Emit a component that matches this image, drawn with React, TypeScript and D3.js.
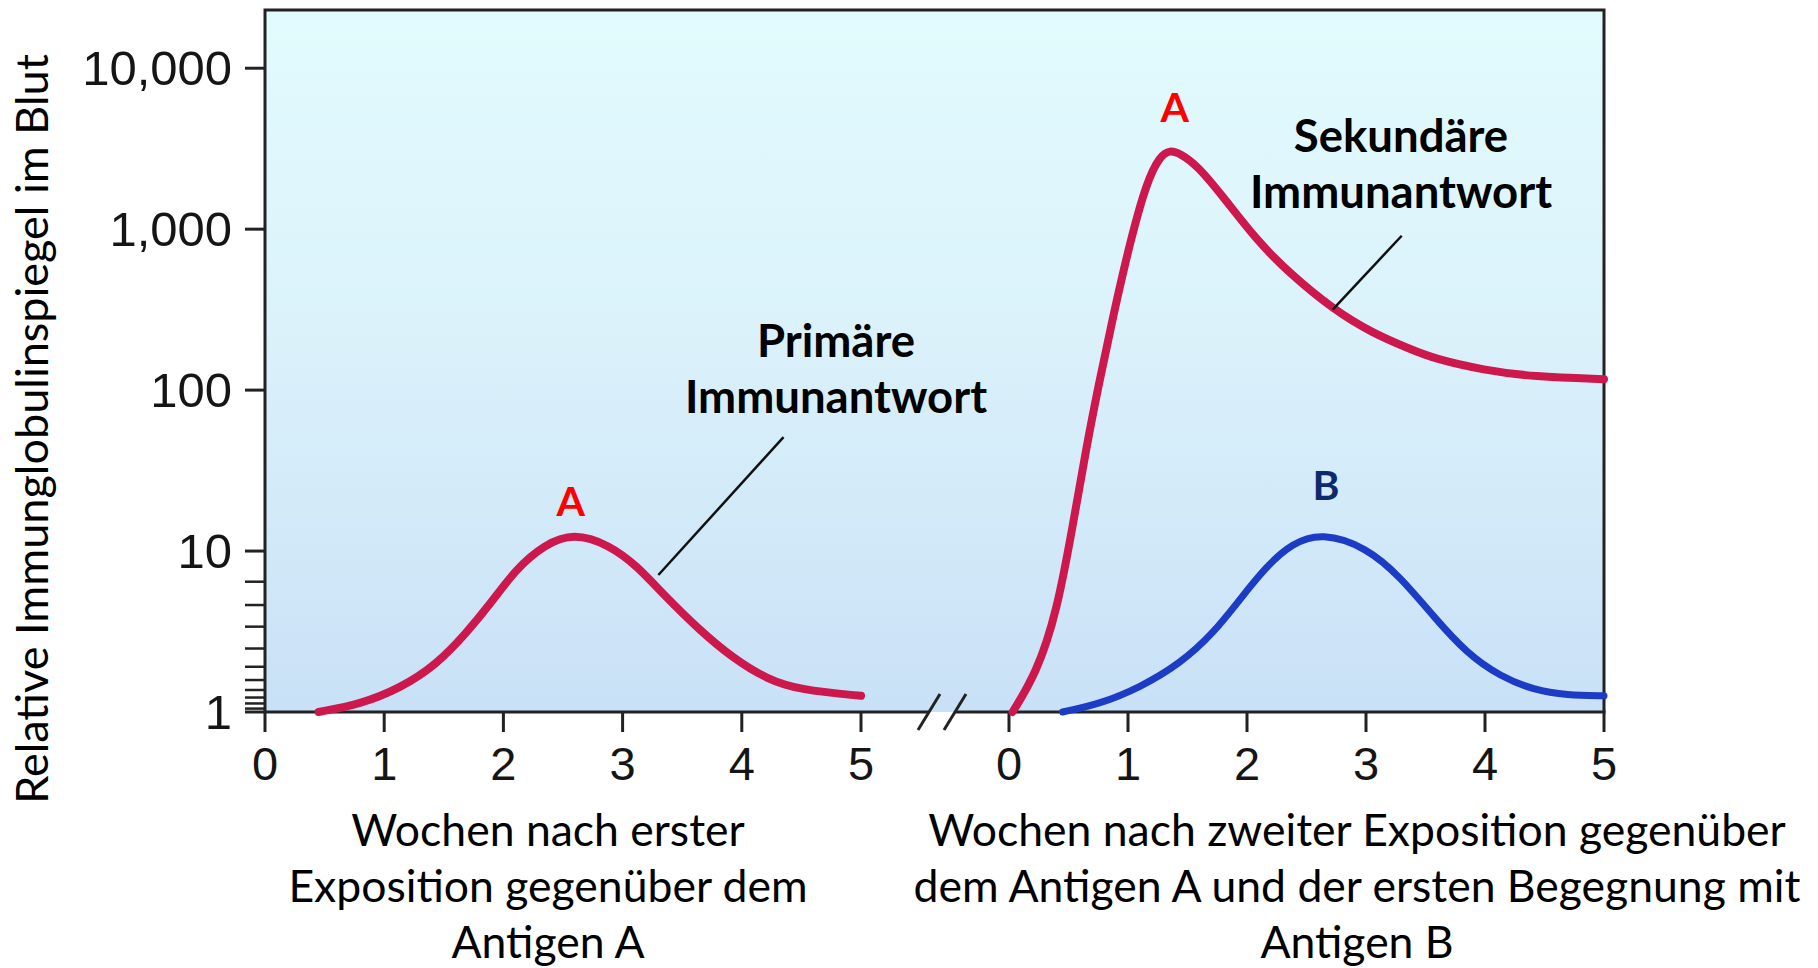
import React from "react";
import * as d3 from "d3";

// ---------- data ----------
const xTickValues = [0, 1, 2, 3, 4, 5];
const yTickValues = [1, 10, 100, 1000, 10000];
const yTickLabels = ["1", "10", "100", "1,000", "10,000"];
const yMinorTicks = [6.45, 4.62, 3.39, 2.48, 1.91, 1.58, 1.37, 1.23, 1.13, 1.05];
const yDomain = [1, 23000];

// primary response, antigen A (weeks after first exposure)
const primaryWeeks = [0.45, 0.8, 1.13, 1.44, 1.69, 1.89, 2.11, 2.34, 2.59, 2.89, 3.12, 3.34, 3.65, 3.93, 4.21, 4.49, 5.0];
const primaryLevel = [1.0, 1.12, 1.4, 1.97, 3.1, 4.7, 7.8, 10.9, 13.0, 10.9, 8.1, 5.4, 3.2, 2.15, 1.6, 1.37, 1.26];

// secondary response, antigen A (weeks after second exposure)
const secondaryWeeks = [0.03, 0.23, 0.4, 0.54, 0.65, 0.75, 0.88, 1.02, 1.16, 1.27, 1.35, 1.44, 1.58, 1.8, 2.08, 2.36, 2.73, 3.06, 3.37, 3.57, 3.99, 4.41, 5.0];
const secondaryLevel = [1.0, 1.74, 4.1, 14.9, 44, 105, 300, 850, 2000, 2850, 3100, 2950, 2500, 1590, 855, 530, 315, 225, 180, 157, 133, 121, 117];

// primary response, antigen B
const antigenBWeeks = [0.45, 0.76, 1.1, 1.44, 1.72, 1.94, 2.16, 2.38, 2.63, 3.0, 3.29, 3.57, 3.85, 4.13, 4.41, 4.69, 5.0];
const antigenBLevel = [1.0, 1.12, 1.42, 2.0, 3.1, 5.0, 8.0, 11.2, 13.0, 10.6, 6.9, 3.9, 2.3, 1.66, 1.37, 1.27, 1.26];

// annotation anchors (data coordinates)
const primaryLeader = [{ t: 3.3, v: 7.1 }, { t: 4.35, v: 51 }];
const secondaryLeader = [{ t: 2.72, v: 316 }, { t: 3.3, v: 910 }];

const yAxisTitle = "Relative Immunglobulinspiegel im Blut";
const leftXTitle = ["Wochen nach erster", "Exposition gegenüber dem", "Antigen A"];
const rightXTitle = ["Wochen nach zweiter Exposition gegenüber", "dem Antigen A und der ersten Begegnung mit", "Antigen B"];
const primaryLabel = ["Primäre", "Immunantwort"];
const secondaryLabel = ["Sekundäre", "Immunantwort"];

// ---------- layout ----------
const W = 1818;
const H = 968;
const left = 265;
const right = 1604;
const top = 10;
const bottom = 712;

const RED = "#cc184d";
const BLUE = "#1c3cc6";
const AXIS = "#222";
const NUM_FONT = "'Liberation Sans', Arial, sans-serif";
const TXT_FONT = "Lato, 'Open Sans', sans-serif";

export default function App() {
  const y = d3.scaleLog().domain(yDomain).range([bottom, top]);
  const xA = d3.scaleLinear().domain([0, 5]).range([left, 861]);
  const xB = d3.scaleLinear().domain([0, 5]).range([1009, right]);

  const mk = (xs: any, ts: number[], vs: number[]) =>
    d3
      .line<number>()
      .x((_, i) => xs(ts[i]))
      .y((_, i) => Math.min(y(vs[i]), bottom))
      .curve(d3.curveBasis)(ts) as string;

  const pPath = mk(xA, primaryWeeks, primaryLevel);
  const sPath = mk(xB, secondaryWeeks, secondaryLevel);
  const bPath = mk(xB, antigenBWeeks, antigenBLevel);

  const baseY = y(1);
  const breakC = 942;

  const pPeakI = primaryLevel.indexOf(d3.max(primaryLevel) as number);
  const sPeakI = secondaryLevel.indexOf(d3.max(secondaryLevel) as number);
  const bPeakI = antigenBLevel.indexOf(d3.max(antigenBLevel) as number);

  return (
    <svg width={W} height={H} style={{ position: "absolute", left: 0, top: 0, background: "#fff" }}>
      <defs>
        <linearGradient id="bg" x1="0" y1="0" x2="0" y2="1">
          <stop offset="0" stopColor="#e2fbfd" />
          <stop offset="0.45" stopColor="#dbf2fb" />
          <stop offset="1" stopColor="#c9e1f6" />
        </linearGradient>
      </defs>
      <rect x={left} y={top} width={right - left} height={baseY - top} fill="url(#bg)" />

      {/* frame */}
      <path d={`M${left},${baseY}V${top}H${right}V${baseY}`} fill="none" stroke={AXIS} strokeWidth={3} />
      {/* x axis with break */}
      <line x1={left - 1.5} x2={breakC - 13} y1={baseY} y2={baseY} stroke={AXIS} strokeWidth={3} />
      <line x1={breakC + 13} x2={right + 1.5} y1={baseY} y2={baseY} stroke={AXIS} strokeWidth={3} />
      {[breakC - 13, breakC + 13].map((c, i) => (
        <line key={i} x1={c - 11} y1={baseY + 18} x2={c + 11} y2={baseY - 18} stroke={AXIS} strokeWidth={3} />
      ))}

      {/* x ticks */}
      {[xA, xB].map((xs, k) =>
        xTickValues.map((t) => (
          <g key={`${k}-${t}`}>
            <line x1={xs(t)} x2={xs(t)} y1={baseY} y2={baseY + 20} stroke={AXIS} strokeWidth={3} />
            <text x={xs(t)} y={780} textAnchor="middle" fontFamily={NUM_FONT} fontSize={47} fill="#151515">
              {t}
            </text>
          </g>
        ))
      )}

      {/* y ticks */}
      {yTickValues.map((v, i) => (
        <g key={v}>
          <line x1={left - 20} x2={left} y1={y(v)} y2={y(v)} stroke={AXIS} strokeWidth={3} />
          <text x={232} y={y(v) + 17} textAnchor="end" fontFamily={NUM_FONT} fontSize={49} fill="#151515">
            {yTickLabels[i]}
          </text>
        </g>
      ))}
      {yMinorTicks.map((v) => (
        <line key={v} x1={left - 20} x2={left} y1={y(v)} y2={y(v)} stroke={AXIS} strokeWidth={2.5} />
      ))}

      {/* curves */}
      <path d={pPath} fill="none" stroke={RED} strokeWidth={8} strokeLinecap="round" strokeLinejoin="round" />
      <path d={bPath} fill="none" stroke={BLUE} strokeWidth={7} strokeLinecap="round" strokeLinejoin="round" />
      <path d={sPath} fill="none" stroke={RED} strokeWidth={8} strokeLinecap="round" strokeLinejoin="round" />

      {/* leader lines */}
      <line
        x1={xA(primaryLeader[0].t)} y1={y(primaryLeader[0].v)}
        x2={xA(primaryLeader[1].t)} y2={y(primaryLeader[1].v)}
        stroke="#111" strokeWidth={2.5}
      />
      <line
        x1={xB(secondaryLeader[0].t)} y1={y(secondaryLeader[0].v)}
        x2={xB(secondaryLeader[1].t)} y2={y(secondaryLeader[1].v)}
        stroke="#111" strokeWidth={2.5}
      />

      {/* peak labels */}
      <text x={xA(primaryWeeks[pPeakI]) - 3} y={y(primaryLevel[pPeakI]) - 17} textAnchor="middle" fontFamily={TXT_FONT} fontWeight={700} fontSize={41} fill="#ff0000">A</text>
      <text x={xB(secondaryWeeks[sPeakI]) + 5} y={y(secondaryLevel[sPeakI]) - 28} textAnchor="middle" fontFamily={TXT_FONT} fontWeight={700} fontSize={41} fill="#ff0000">A</text>
      <text x={xB(antigenBWeeks[bPeakI]) + 4} y={y(antigenBLevel[bPeakI]) - 33} textAnchor="middle" fontFamily={TXT_FONT} fontWeight={700} fontSize={41} fill="#0d2a6e">B</text>

      {/* annotations */}
      {primaryLabel.map((s, i) => (
        <text key={s} x={836} y={357 + i * 56} textAnchor="middle" fontFamily={TXT_FONT} fontWeight={700} fontSize={45.5} fill="#000">{s}</text>
      ))}
      {secondaryLabel.map((s, i) => (
        <text key={s} x={1401} y={152 + i * 56} textAnchor="middle" fontFamily={TXT_FONT} fontWeight={700} fontSize={45.5} fill="#000">{s}</text>
      ))}

      {/* y axis title */}
      <text transform={`translate(48,429) rotate(-90)`} textAnchor="middle" fontFamily={TXT_FONT} fontSize={45} fill="#000">
        {yAxisTitle}
      </text>

      {/* x axis titles */}
      {leftXTitle.map((s, i) => (
        <text key={s} x={548} y={846 + i * 56} textAnchor="middle" fontFamily={TXT_FONT} fontSize={44.5} fill="#000">{s}</text>
      ))}
      {rightXTitle.map((s, i) => (
        <text key={s} x={1357} y={846 + i * 56} textAnchor="middle" fontFamily={TXT_FONT} fontSize={44.5} fill="#000">{s}</text>
      ))}
    </svg>
  );
}
